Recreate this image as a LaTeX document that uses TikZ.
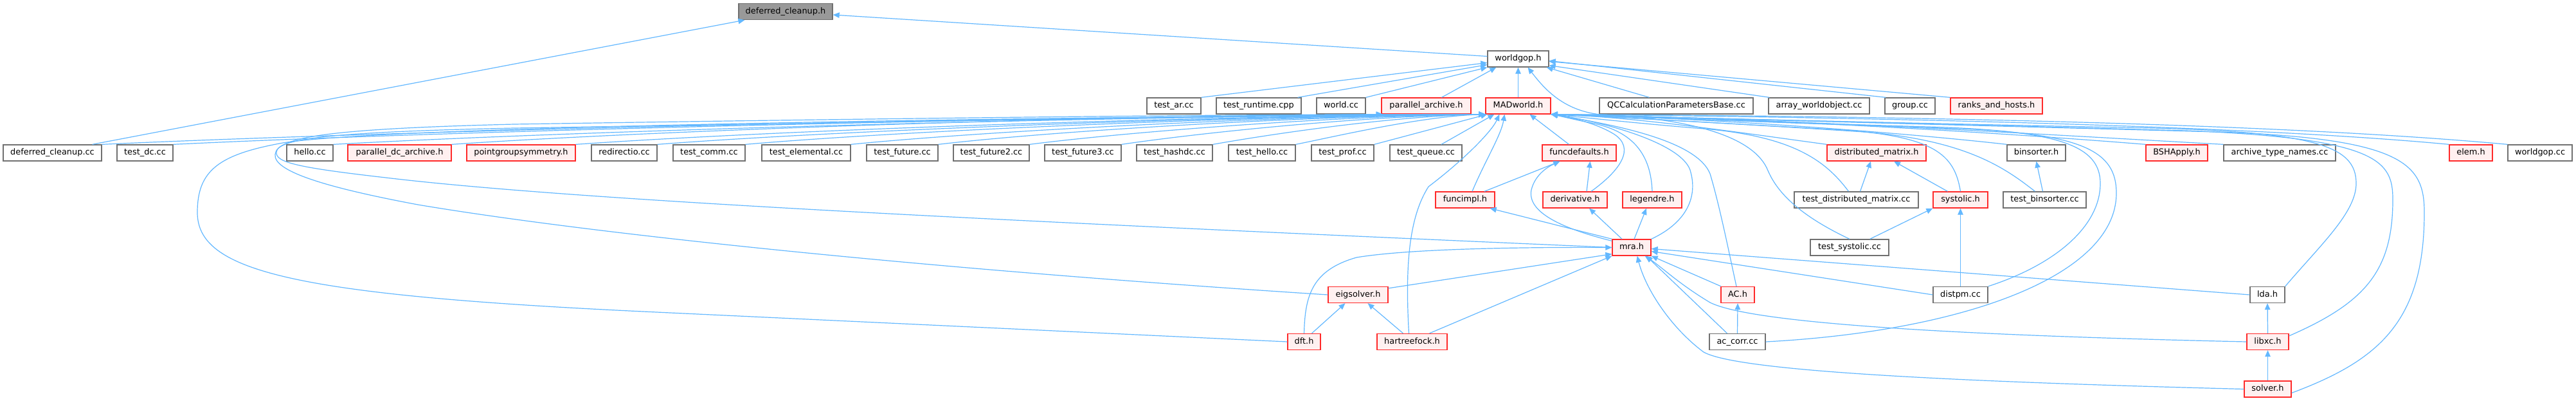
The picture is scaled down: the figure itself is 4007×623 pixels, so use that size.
\documentclass[tikz,border=0pt]{standalone}
\usepackage{fontspec}
\setmainfont{DejaVu Sans}
\usetikzlibrary{arrows.meta}
\definecolor{edgeblue}{HTML}{63B8FF}
\definecolor{boxgray}{HTML}{707070}
\definecolor{nodered}{HTML}{FF2A2A}
\definecolor{nodefill}{HTML}{FFF0F0}
\definecolor{rootfill}{HTML}{999999}
\tikzset{
  box/.style={draw=boxgray, line width=1.3pt, fill=white, minimum height=25pt,
    inner sep=0pt, text height=9.6pt, text depth=2.7pt,
    font=\fontsize{12.9}{15}\selectfont},
  redbox/.style={box, draw=nodered, fill=nodefill},
  rootbox/.style={box, fill=rootfill},
  dep/.style={draw=edgeblue, line width=1.2pt, -{Triangle[length=10pt,width=8.5pt]}}
}
\begin{document}
\begin{tikzpicture}[x=1pt,y=-1pt]
\fill[white] (0,0) rectangle (4007,623);
\useasboundingbox (0,0) rectangle (4007,623);
% row 1-2
\node[rootbox, minimum width=146pt] (dch) at (1222,18) {deferred\_cleanup.h};
\node[box, minimum width=95pt] (wgh) at (2361.5,91.5) {worldgop.h};
% row 3
\node[box, minimum width=84pt] (tar) at (1826,164.5) {test\_ar.cc};
\node[box, minimum width=132pt] (trt) at (1958,164.5) {test\_runtime.cpp};
\node[box, minimum width=76pt] (wcc) at (2086,164.5) {world.cc};
\node[redbox, minimum width=139pt] (par) at (2218.5,164.5) {parallel\_archive.h};
\node[redbox, minimum width=101pt] (mad) at (2361.5,164.5) {MADworld.h};
\node[box, minimum width=239pt] (qcc) at (2607.5,164.5) {QCCalculationParametersBase.cc};
\node[box, minimum width=157pt] (awo) at (2829.5,164.5) {array\_worldobject.cc};
\node[box, minimum width=78pt] (grp) at (2971,164.5) {group.cc};
\node[redbox, minimum width=143pt] (rah) at (3105.5,164.5) {ranks\_and\_hosts.h};
% row 4
\node[box, minimum width=153pt] (dcc) at (81.5,237.5) {deferred\_cleanup.cc};
\node[box, minimum width=87pt] (tdc) at (225.5,237.5) {test\_dc.cc};
\node[box, minimum width=72pt] (hel) at (482,237.5) {hello.cc};
\node[redbox, minimum width=161pt] (pdc) at (621.5,237.5) {parallel\_dc\_archive.h};
\node[redbox, minimum width=169pt] (pgs) at (810.5,237.5) {pointgroupsymmetry.h};
\node[box, minimum width=102pt] (rio) at (971,237.5) {redirectio.cc};
\node[box, minimum width=112pt] (tcm) at (1103,237.5) {test\_comm.cc};
\node[box, minimum width=138pt] (tel) at (1254,237.5) {test\_elemental.cc};
\node[box, minimum width=111pt] (tfu) at (1403.5,237.5) {test\_future.cc};
\node[box, minimum width=118pt] (tf2) at (1542,237.5) {test\_future2.cc};
\node[box, minimum width=119pt] (tf3) at (1684.5,237.5) {test\_future3.cc};
\node[box, minimum width=118pt] (ths) at (1827,237.5) {test\_hashdc.cc};
\node[box, minimum width=104pt] (thl) at (1963,237.5) {test\_hello.cc};
\node[box, minimum width=97pt] (tpf) at (2088.5,237.5) {test\_prof.cc};
\node[box, minimum width=112pt] (tqu) at (2218,237.5) {test\_queue.cc};
\node[redbox, minimum width=115pt] (fdf) at (2456.5,237.5) {funcdefaults.h};
\node[redbox, minimum width=154pt] (dmh) at (2919,237.5) {distributed\_matrix.h};
\node[box, minimum width=91pt] (bsh) at (3167.5,237.5) {binsorter.h};
\node[redbox, minimum width=96pt] (bsa) at (3386,237.5) {BSHApply.h};
\node[box, minimum width=174pt] (atn) at (3546,237.5) {archive\_type\_names.cc};
\node[redbox, minimum width=67pt] (elm) at (3843.5,237.5) {elem.h};
\node[box, minimum width=100pt] (wgc) at (3951,237.5) {worldgop.cc};
% row 5
\node[redbox, minimum width=92pt] (fim) at (2279,310.5) {funcimpl.h};
\node[redbox, minimum width=100pt] (der) at (2450,310.5) {derivative.h};
\node[redbox, minimum width=92pt] (leg) at (2570,310.5) {legendre.h};
\node[box, minimum width=193pt] (tdm) at (2887.5,310.5) {test\_distributed\_matrix.cc};
\node[redbox, minimum width=85pt] (sys) at (3049.5,310.5) {systolic.h};
\node[box, minimum width=129pt] (tbs) at (3180.5,310.5) {test\_binsorter.cc};
% row 6
\node[redbox, minimum width=60pt] (mra) at (2538,384.5) {mra.h};
\node[box, minimum width=122pt] (tsy) at (2877,384.5) {test\_systolic.cc};
% row 7
\node[redbox, minimum width=93pt] (eig) at (2112.5,458) {eigsolver.h};
\node[redbox, minimum width=52pt] (ach) at (2703,458) {AC.h};
\node[box, minimum width=85pt] (dpm) at (3049.5,458) {distpm.cc};
\node[box, minimum width=54pt] (lda) at (3527,458) {lda.h};
% row 8
\node[redbox, minimum width=51pt] (dft) at (2028.5,531) {dft.h};
\node[redbox, minimum width=109pt] (hfk) at (2196.5,531) {hartreefock.h};
\node[box, minimum width=87pt] (acc) at (2702.5,531) {ac\_corr.cc};
\node[redbox, minimum width=65pt] (lxc) at (3527.5,531) {libxc.h};
% row 9
\node[redbox, minimum width=73pt] (sol) at (3527.5,604.5) {solver.h};

% ---- edges to deferred_cleanup.h
\draw[dep] ([yshift=4pt]wgh.west) -- ([yshift=-5pt]dch.east);
\draw[dep] ([xshift=-15pt]dcc.north east) -- ([xshift=10pt]dch.south west);
% ---- edges to worldgop.h
\draw[dep] (tar.north east) -- ([yshift=-6pt]wgh.west);
\draw[dep] ([xshift=-6pt]trt.north east) -- ([yshift=-9pt]wgh.west);
\draw[dep] (wcc.north east) -- (wgh.south west);
\draw[dep] ([xshift=24pt]par.north) -- ([xshift=14pt]wgh.south west);
\draw[dep] (mad.north) -- (wgh.south);
\draw[dep] ([xshift=-42pt]qcc.north) -- ([xshift=-4pt]wgh.south east);
\draw[dep] ([xshift=2pt]awo.north west) -- ([yshift=3pt]wgh.south east);
\draw[dep] ([xshift=2pt]grp.north west) -- ([yshift=-3pt]wgh.east);
\draw[dep] (rah.north west) -- ([yshift=-4pt]wgh.east);
\draw[dep] (tsy.north) .. controls (2800,335) and (2765,300) .. (2750,265)
  .. controls (2730,215) and (2640,185) .. (2490,178)
  .. controls (2430,172) and (2400,135) .. ([xshift=15pt]wgh.south);
% ---- left bundle to MADworld.h
\draw[dep] (dcc.north east) .. controls +(430,-20) and +(-750,3) .. (mad.south west);
\draw[dep] (tdc.north east) .. controls +(410,-20) and +(-715,3) .. (mad.south west);
\draw[dep] (hel.north east) .. controls +(360,-20) and +(-630,3) .. (mad.south west);
\draw[dep] (pdc.north east) .. controls +(290,-20) and +(-500,3) .. ([xshift=2pt]par.south west);
\draw[dep] (pgs.north east) .. controls +(283,-20) and +(-500,3) .. (mad.south west);
\draw[dep] (rio.north east) .. controls +(258,-20) and +(-450,3) .. (mad.south west);
\draw[dep] (tcm.north east) .. controls +(230,-20) and +(-400,3) .. (mad.south west);
\draw[dep] (tel.north east) .. controls +(200,-20) and +(-345,3) .. (mad.south west);
\draw[dep] (tfu.north east) .. controls +(170,-20) and +(-300,3) .. (mad.south west);
\draw[dep] (tf2.north east) .. controls +(140,-18) and +(-250,3) .. (mad.south west);
\draw[dep] (tf3.north east) .. controls +(115,-17) and +(-200,3) .. (mad.south west);
\draw[dep] (ths.north east) .. controls +(85,-15) and +(-150,3) .. (mad.south west);
\draw[dep] (thl.north east) .. controls +(60,-12) and +(-100,3) .. (mad.south west);
\draw[dep] (tpf.north east) -- ([xshift=3pt]mad.south west);
\draw[dep] ([xshift=24pt]tqu.north) -- ([xshift=14pt]mad.south west);
% ---- loops on the left
\draw[dep] (eig.west) .. controls (1400,415) and (900,360) .. (650,318)
  .. controls (500,290) and (425,265) .. (428,240)
  .. controls (430,212) and (520,200) .. (800,193)
  .. controls (1500,182) and (2000,177) .. (mad.south west);
\draw[dep] (dft.west) -- (1000,484) .. controls (450,458) and (307,420) .. (307,330)
  .. controls (307,265) and (340,240) .. (440,222)
  .. controls (600,196) and (1600,182) .. (mad.south west);
\draw[dep] (mra.west) .. controls (1600,345) and (900,312) .. (600,276)
  .. controls (460,260) and (428,252) .. (430,236)
  .. controls (432,215) and (520,205) .. (800,199)
  .. controls (1500,188) and (1900,180) .. ([xshift=3pt]par.south west);
% ---- centre
\draw[dep] ([xshift=-16pt]fdf.north) -- ([xshift=18pt]mad.south);
\draw[dep] ([xshift=11pt]fim.north) .. controls (2310,250) and (2335,210) .. ([xshift=30pt]mad.south west);
\draw[dep] ([xshift=-5pt]hfk.north) .. controls (2186,420) and (2190,340) .. (2222,290)
  .. controls (2275,250) and (2320,205) .. ([xshift=22pt]mad.south west);
\draw[dep] ([xshift=30pt]fim.north) -- ([xshift=-30pt]fdf.south);
\draw[dep] ([xshift=18pt]der.north) -- ([xshift=17pt]fdf.south);
\draw[dep] ([xshift=25pt]der.north) .. controls (2520,265) and (2545,230) .. (2510,208)
  .. controls (2480,190) and (2440,182) .. (mad.south east);
\draw[dep] (leg.north) .. controls (2568,240) and (2540,205) .. (2480,192)
  .. controls (2450,186) and (2425,180) .. (mad.south east);
\draw[dep] (mra.north west) -- ([xshift=-8pt]fim.south east);
\draw[dep] ([yshift=-3pt]mra.north west) .. controls (2430,355) and (2375,330) .. (2382,295)
  .. controls (2388,270) and (2410,258) .. ([xshift=28pt]fdf.south west);
\draw[dep] ([xshift=-15pt]mra.north) -- ([xshift=22pt]der.south);
\draw[dep] ([xshift=4pt]mra.north) -- ([xshift=-9pt]leg.south);
\draw[dep] (mra.north east) .. controls (2625,345) and (2640,305) .. (2630,268)
  .. controls (2622,225) and (2500,190) .. (mad.south east);
\draw[dep] ([yshift=-3pt]eig.north east) -- ([yshift=3pt]mra.south west);
\draw[dep] ([xshift=12pt]dft.north) -- ([xshift=-20pt]eig.south);
\draw[dep] (dft.north) .. controls (2030,460) and (2040,420) .. (2110,400)
  .. controls (2200,385) and (2400,384) .. (mra.west);
\draw[dep] ([xshift=-14pt]hfk.north) -- ([xshift=15pt]eig.south);
\draw[dep] ([xshift=27pt]hfk.north) -- (mra.south west);
\draw[dep] ([xshift=-26pt]ach.north) -- (mra.south east);
\draw[dep] ([xshift=-2pt]ach.north) .. controls (2690,395) and (2675,320) .. (2660,270)
  .. controls (2640,220) and (2520,195) .. (mad.south east);
\draw[dep] (acc.north) -- (ach.south);
\draw[dep] ([xshift=-16pt]acc.north) -- ([xshift=-8pt]mra.south east);
\draw[dep] (lda.west) -- ([yshift=-2pt]mra.east);
\draw[dep] (dpm.west) -- ([yshift=-6pt]mra.east);
\draw[dep] (lxc.west) .. controls (3000,520) and (2720,500) .. (2660,470)
  .. controls (2610,440) and (2585,415) .. ([xshift=-10pt]mra.south east);
\draw[dep] (sol.west) .. controls (3000,592) and (2700,575) .. (2650,547)
  .. controls (2600,510) and (2560,450) .. ([xshift=-22pt]mra.south east);
% ---- right side small edges
\draw[dep] ([xshift=-30pt]tsy.north east) -- (sys.south west);
\draw[dep] ([xshift=6pt]tdm.north) -- ([xshift=-9pt]dmh.south);
\draw[dep] ([xshift=-20pt]sys.north) -- ([xshift=27pt]dmh.south);
\draw[dep] ([xshift=-3pt]tbs.north) -- (bsh.south);
\draw[dep] (dpm.north) -- (sys.south);
\draw[dep] (lxc.north) -- (lda.south);
\draw[dep] (sol.north) -- (lxc.south);
% ---- right bundle to MADworld.h
\draw[dep] (dmh.north west) .. controls (2720,208) and (2550,182) .. (mad.south east);
\draw[dep] (bsh.north west) .. controls (2950,205) and (2650,183) .. (mad.south east);
\draw[dep] (bsa.north west) .. controls (3100,205) and (2700,182) .. (mad.south east);
\draw[dep] (atn.north west) .. controls (3250,213) and (2800,185) .. (mad.south east);
\draw[dep] (elm.north west) .. controls (3500,195) and (2900,182) .. (mad.south east);
\draw[dep] (wgc.north west) .. controls (3550,192) and (2950,180) .. (mad.south east);
\draw[dep] ([xshift=-12pt]tdm.north) .. controls (2840,250) and (2790,212) .. (2650,200)
  .. controls (2550,192) and (2460,182) .. (mad.south east);
\draw[dep] (sys.north) .. controls (3040,240) and (3010,210) .. (2850,201)
  .. controls (2650,190) and (2480,180) .. (mad.south east);
\draw[dep] ([xshift=-15pt]tbs.north) .. controls (3120,262) and (3060,218) .. (2900,205)
  .. controls (2700,192) and (2480,180) .. (mad.south east);
\draw[dep] (dpm.north east) .. controls (3200,410) and (3267,350) .. (3267,285)
  .. controls (3267,225) and (3200,203) .. (3000,197)
  .. controls (2750,190) and (2500,180) .. (mad.south east);
\draw[dep] (acc.east) .. controls (3050,515) and (3292,430) .. (3292,300)
  .. controls (3292,235) and (3240,208) .. (3050,200)
  .. controls (2800,192) and (2500,180) .. (mad.south east);
\draw[dep] (lda.north east) .. controls (3610,380) and (3665,330) .. (3665,285)
  .. controls (3665,225) and (3600,203) .. (3300,198)
  .. controls (2900,190) and (2500,180) .. (mad.south east);
\draw[dep] ([yshift=-4pt]lxc.north east) .. controls (3680,470) and (3722,420) .. (3722,310)
  .. controls (3722,250) and (3700,215) .. (3400,203)
  .. controls (3000,192) and (2500,180) .. (mad.south east);
\draw[dep] ([yshift=-6pt]sol.east) .. controls (3700,560) and (3771,500) .. (3771,330)
  .. controls (3771,255) and (3740,215) .. (3450,205)
  .. controls (3000,193) and (2500,180) .. (mad.south east);
\end{tikzpicture}
\end{document}
